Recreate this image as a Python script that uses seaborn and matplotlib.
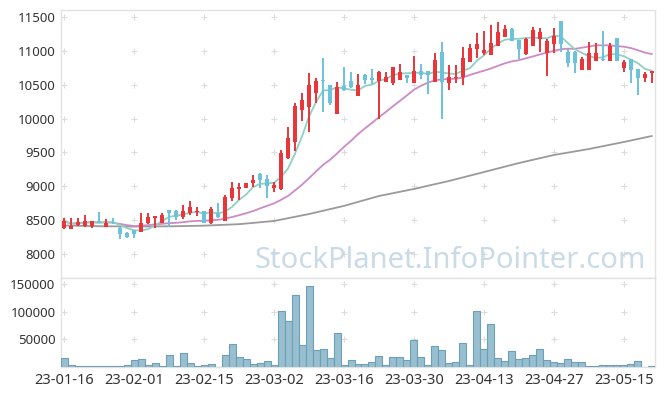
import matplotlib
matplotlib.use("Agg")
import matplotlib.pyplot as plt
import seaborn as sns
import pandas as pd
import numpy as np

# trading days (KRX calendar, holidays removed)
holidays = ["2023-01-23", "2023-01-24", "2023-03-01", "2023-05-01", "2023-05-05"]
dates = pd.bdate_range("2023-01-16", "2023-05-19", freq="C", holidays=holidays)

opens = [8390, 8375, 8435, 8410, 8410, 8485, 8405, 8465, 8380, 8315,
         8350, 8330, 8455, 8535, 8455, 8650, 8635, 8540, 8600, 8615,
         8635, 8455, 8600, 8490, 8830, 8965, 8980, 9055, 9175, 9100,
         8970, 8955, 9420, 9660, 10125, 10175, 10380, 10560, 10495, 10065,
         10485, 10555, 10340, 10645, 10595, 10560, 10545, 10530, 10570, 10645,
         10530, 10700, 10700, 10545, 10990, 10520, 10595, 10620, 10840, 11030,
         10965, 10940, 11070, 11210, 11325, 11160, 10950, 11075, 11175, 10975,
         11095, 11440, 10990, 10990, 10715, 10715, 10855, 10870, 10850, 11185,
         10750, 10880, 10730, 10605, 10670]
closes = [8485, 8410, 8470, 8490, 8485, 8455, 8460, 8450, 8290, 8255,
          8290, 8450, 8550, 8560, 8575, 8600, 8540, 8635, 8700, 8635,
          8455, 8660, 8540, 8845, 8970, 8980, 9045, 9095, 9085, 9005,
          9020, 9490, 9710, 10185, 10275, 10495, 10555, 10550, 10235, 10470,
          10415, 10460, 10495, 10570, 10570, 10685, 10620, 10755, 10685, 10605,
          10700, 10645, 10645, 10865, 10545, 10620, 10620, 10890, 11045, 11100,
          11015, 11110, 11275, 11325, 11150, 11025, 11175, 11310, 11275, 11145,
          11225, 11095, 10825, 10825, 10880, 10975, 10975, 10860, 11075, 10850,
          10840, 10715, 10605, 10660, 10700]
highs = [8530, 8535, 8530, 8575, 8490, 8625, 8515, 8535, 8395, 8330,
         8360, 8600, 8600, 8565, 8600, 8655, 8650, 8725, 8780, 8700,
         8640, 8700, 8750, 8870, 9070, 9045, 9055, 9165, 9200, 9165,
         9070, 9535, 9880, 10235, 10375, 10670, 10600, 10890, 10500, 10545,
         10765, 10690, 10655, 10660, 10730, 10700, 10690, 10760, 10805, 10650,
         10925, 10805, 10705, 10975, 11125, 10790, 10790, 11060, 11100, 11260,
         11295, 11380, 11430, 11380, 11330, 11165, 11190, 11355, 11340, 11175,
         11335, 11445, 11020, 10995, 10905, 11125, 11110, 11300, 11110, 11190,
         10860, 10885, 10735, 10685, 10705]
lows = [8375, 8370, 8420, 8400, 8380, 8450, 8400, 8440, 8220, 8240,
        8230, 8320, 8440, 8380, 8450, 8400, 8500, 8510, 8575, 8560,
        8450, 8440, 8535, 8480, 8785, 8800, 8975, 8985, 8970, 8830,
        8920, 8950, 9400, 9525, 9970, 9805, 10225, 10100, 10200, 10060,
        10405, 10450, 10335, 10510, 10510, 9990, 10540, 10500, 10565, 10530,
        10525, 10580, 10360, 10540, 9990, 10420, 10520, 10500, 10835, 10900,
        10940, 10935, 11065, 11205, 11145, 10875, 10945, 11070, 10980, 10635,
        10965, 10990, 10755, 10670, 10710, 10710, 10850, 10855, 10845, 10845,
        10680, 10520, 10350, 10545, 10520]
volumes = [15150, 3000, 1200, 1200, 1200, 1200, 200, 1200, 1200, 3000,
           11500, 13300, 3000, 6000, 1200, 20600, 600, 24200, 6000, 1200,
           3000, 4800, 0, 20600, 40600, 17000, 13300, 4200, 6000, 9700,
           2400, 100600, 82400, 129700, 38800, 146000, 29700, 31500, 15200, 60600,
           2400, 11500, 4200, 4200, 7900, 19400, 2400, 17000, 17000, 11500,
           47900, 17000, 2400, 37000, 29700, 6000, 7900, 42400, 2400, 100600,
           31500, 77000, 15200, 9700, 27900, 13300, 15200, 20600, 31500, 11500,
           7900, 6000, 13300, 7900, 7900, 600, 600, 2400, 2400, 2400,
           2400, 4200, 9700, 0, 1200]
# long moving average (gray) read at every 5th session
ma_long_pos = [0, 5, 10, 15, 20, 25, 30, 35, 40, 45, 50, 55, 60, 65, 70, 75, 80, 84]
ma_long = [8420, 8410, 8405, 8408, 8418, 8440, 8487, 8590, 8710, 8856,
           8960, 9078, 9210, 9343, 9462, 9550, 9654, 9742]

UP, DOWN = "#e8363a", "#6cc2da"

df = pd.DataFrame({"date": dates, "open": opens, "high": highs, "low": lows,
                   "close": closes, "volume": volumes})
df["i"] = np.arange(len(df))
df["ma5"] = df["close"].rolling(5, min_periods=1).mean()
df["ma20"] = df["close"].rolling(20, min_periods=1).mean()
up = df["close"] >= df["open"]
colors = np.where(up, UP, DOWN)

sns.set_theme(style="white")
plt.rcParams["font.family"] = ["Noto Sans", "DejaVu Sans"]

fig = plt.figure(figsize=(6.65, 3.96), dpi=100)
ax = fig.add_axes([61 / 665, 1 - 278 / 396, 594 / 665, 268 / 396])
axv = fig.add_axes([61 / 665, 1 - 366.5 / 396, 594 / 665, 88.5 / 396], sharex=ax)

# watermark
fig.text(450 / 665, 1 - 268 / 396, "StockPlanet.InfoPointer.com", ha="center",
         va="baseline", fontsize=21, color="#c9dbe6", zorder=0)

# moving averages
sns.lineplot(x=ma_long_pos, y=ma_long, ax=ax, color="#9a9a9a", lw=1.3, zorder=2)
sns.lineplot(data=df, x="i", y="ma20", ax=ax, color="#cc8ac6", lw=1.3, zorder=2)
sns.lineplot(data=df, x="i", y="ma5", ax=ax, color="#8fd0c2", lw=1.3, zorder=2)

# candles
ax.vlines(df["i"], df["low"], df["high"], colors=colors, lw=1.4, zorder=3)
body = (df["close"] - df["open"]).abs().clip(lower=18)
bottom = df[["open", "close"]].min(axis=1)
ax.bar(df["i"], body, bottom=bottom, width=0.68, color=colors, lw=0, zorder=4)

# volume
sns.barplot(x=df["i"], y=df["volume"], ax=axv, color="#97bfd0", edgecolor="#6e9fb6",
            linewidth=0.8, width=1.0, saturation=1, zorder=3)

# cross marks at grid intersections
xt = list(range(0, len(df), 10))
pt = [8000, 8500, 9000, 9500, 10000, 10500, 11000, 11500]
vt = [50000, 100000, 150000]
gx, gy = np.meshgrid(xt, pt)
ax.scatter(gx.ravel(), gy.ravel(), marker="+", s=22, color="#dcdcdc", lw=0.8, zorder=1)
gx, gy = np.meshgrid(xt, vt)
axv.scatter(gx.ravel(), gy.ravel(), marker="+", s=22, color="#dcdcdc", lw=0.8, zorder=1)

ax.set_xlim(-0.44, len(df) - 0.56)
ax.set_ylim(7645, 11603)
axv.set_ylim(0, 161000)
ax.set_yticks(pt)
axv.set_yticks(vt)
axv.set_yticklabels([str(v) for v in vt])
axv.set_xticks(xt)
axv.set_xticklabels([d.strftime("%y-%m-%d") for d in df["date"].iloc[xt]])
ax.tick_params(axis="x", labelbottom=False, length=0)
for a in (ax, axv):
    a.set_xlabel("")
    a.set_ylabel("")
    a.tick_params(length=0, labelsize=9.5, colors="#333333", pad=4)
    for s in a.spines.values():
        s.set_color("#e2e2e2")
        s.set_linewidth(1)
axv.tick_params(axis="x", labelsize=10.5, pad=5)

fig.savefig("out.png", dpi=100)
